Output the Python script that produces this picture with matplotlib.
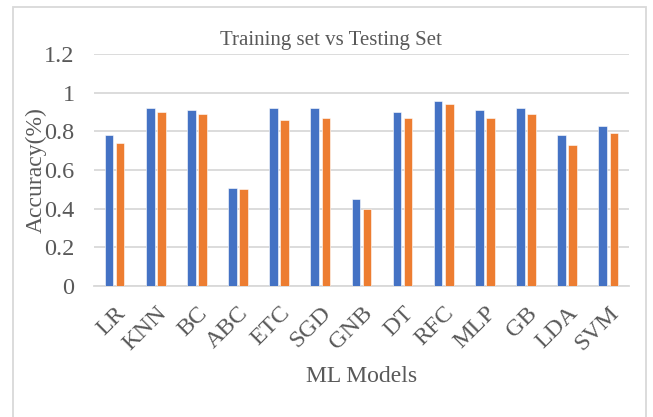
import matplotlib.pyplot as plt
import numpy as np
from matplotlib.patches import Rectangle

# Data
models = ["LR", "KNN", "BC", "ABC", "ETC", "SGD", "GNB", "DT", "RFC", "MLP", "GB", "LDA", "SVM"]
training = [0.78, 0.92, 0.91, 0.51, 0.92, 0.92, 0.45, 0.90, 0.96, 0.91, 0.92, 0.78, 0.83]
testing = [0.74, 0.90, 0.89, 0.50, 0.86, 0.87, 0.40, 0.87, 0.94, 0.87, 0.89, 0.73, 0.79]
yticks = [0, 0.2, 0.4, 0.6, 0.8, 1, 1.2]
ytick_labels = ["0", "0.2", "0.4", "0.6", "0.8", "1", "1.2"]

plt.rcParams["font.family"] = ["Liberation Serif", "DejaVu Serif"]
text_color = "#595959"

fig = plt.figure(figsize=(6.53, 4.17), dpi=100)
ax = fig.add_axes([0.144, 0.314, 0.819, 0.556])

# Chart border
fig.patches.append(Rectangle((13 / 653, -0.1), 633 / 653, 1.1 - 7 / 417,
                             transform=fig.transFigure, fill=False,
                             edgecolor="#D9D9D9", linewidth=1.3))

x = np.arange(len(models))
w = 0.21
ax.bar(x - 0.135, training, w, color="#4472C4", edgecolor="white", linewidth=0.4, zorder=3)
ax.bar(x + 0.135, testing, w, color="#ED7D31", edgecolor="white", linewidth=0.4, zorder=3)

ax.set_xlim(-0.5, len(models) - 0.5)
ax.set_ylim(0, 1.2)
ax.set_yticks(yticks)
ax.set_yticklabels(ytick_labels, fontsize=17.5, color=text_color)
ax.set_xticks(x)
ax.set_xticklabels(models, rotation=45, ha="right", rotation_mode="anchor",
                   fontsize=17.5, color=text_color)
ax.tick_params(axis="both", length=0)
ax.tick_params(axis="y", pad=14)
ax.tick_params(axis="x", pad=12)

ax.grid(axis="y", color="#D9D9D9", linewidth=1.3, zorder=0)
for side in ["top", "right", "left"]:
    ax.spines[side].set_visible(False)
ax.spines["bottom"].set_color("#D9D9D9")
ax.spines["bottom"].set_linewidth(1.3)

ax.set_ylabel("Accuracy(%)", fontsize=17, color=text_color, labelpad=-2)
ax.set_xlabel("ML Models", fontsize=17, color=text_color, labelpad=8)
fig.text(0.507, 1 - 40 / 417, "Training set vs Testing Set", ha="center", va="center",
         fontsize=15, color=text_color)

fig.savefig("out.png", dpi=100)
